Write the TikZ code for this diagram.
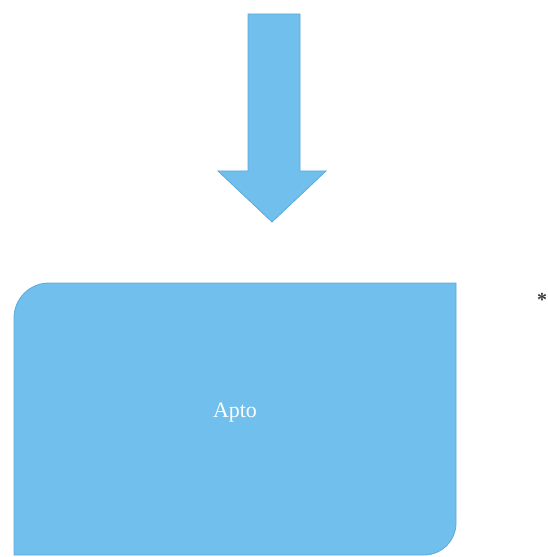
\documentclass[tikz,border=0pt]{standalone}
\usepackage{fontspec}
\setmainfont{Liberation Serif}
\begin{document}
\begin{tikzpicture}[x=1bp,y=-1bp,
  shapefill/.style={fill={rgb,255:red,112;green,191;blue,236},draw={rgb,255:red,92;green,170;blue,220},line width=0.8bp,line join=miter}]
\useasboundingbox (0,0) rectangle (548,557);
% arrow
\coordinate (tip) at (272,222);
\draw[shapefill] (248,14) -- (300,14) -- (300,171) -- (326,171) -- (tip) -- (218,171) -- (248,171) -- cycle;
% box
\draw[shapefill] (14,318) arc[start angle=180,end angle=270,radius=35] -- (456,283) -- (456,523) arc[start angle=0,end angle=90,radius=32] -- (14,555) -- cycle;
\node[text=white,font=\fontsize{22}{24}\selectfont] (apto) at (235,413) {Apto};
\node[text={rgb,255:red,60;green,60;blue,60},font=\fontsize{20}{22}\selectfont\bfseries] (star) at (542,300) {*};
\end{tikzpicture}
\end{document}
